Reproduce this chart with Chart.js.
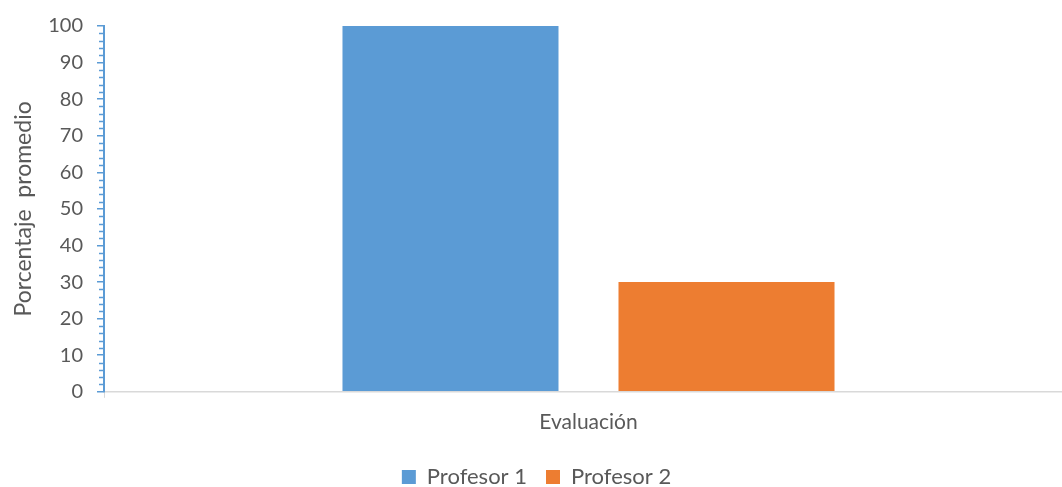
<!DOCTYPE html>
<html>
<head>
<meta charset="utf-8">
<script src="https://cdn.jsdelivr.net/npm/chart.js@4/dist/chart.umd.min.js"></script>
<style>
  html, body { margin: 0; padding: 0; background: #fff; overflow: hidden; }
  #caja { width: 1073px; height: 498px; position: relative; }
</style>
</head>
<body>
<div id="caja"><canvas id="grafico"></canvas></div>
<script>
const categorias = ["Evaluación"]
const profesor1 = [100]
const profesor2 = [30]
const marcasY = [0, 10, 20, 30, 40, 50, 60, 70, 80, 90, 100]

const azul = '#5B9BD5'
const naranja = '#ED7D31'
const gris = '#595959'
const fuente = 'Lato, "Liberation Sans", sans-serif'

// ticks menores del eje Y (cada 2 unidades), mas cortos que los mayores
const ticksMenores = {
  id: 'ticksMenores',
  afterDraw(chart) {
    const y = chart.scales.y
    const c = chart.ctx
    c.save()
    c.strokeStyle = azul
    c.lineWidth = 1.5
    y.ticks.forEach(t => {
      if (marcasY.includes(t.value)) return
      const py = Math.round(y.getPixelForValue(t.value)) + 0.5
      c.beginPath()
      c.moveTo(y.right - 5, py)
      c.lineTo(y.right, py)
      c.stroke()
    })
    c.restore()
  }
}

const ctx = document.getElementById('grafico')

let grafico = new Chart(ctx, {
  type: 'bar',
  data: {
    labels: categorias,
    datasets: [
      { label: 'Profesor 1', data: profesor1, backgroundColor: azul },
      { label: 'Profesor 2', data: profesor2, backgroundColor: naranja }
    ]
  },
  options: {
    responsive: true,
    maintainAspectRatio: false,
    animation: false,
    datasets: {
      bar: { barPercentage: 0.7826, categoryPercentage: 0.5697 }
    },
    layout: { padding: { top: 14, right: 0, bottom: 0, left: 0 } },
    scales: {
      x: {
        border: { color: '#D9D9D9', width: 1.5 },
        grid: { drawOnChartArea: false, tickLength: 6, color: '#D9D9D9' },
        ticks: { color: gris, padding: 12, font: { family: fuente, size: 21 } }
      },
      y: {
        min: 0,
        max: 100,
        afterFit: s => { s.width = 104 },
        border: { color: azul, width: 2 },
        grid: {
          drawOnChartArea: false,
          tickLength: 7,
          lineWidth: 1.5,
          tickColor: c => marcasY.includes(c.tick && c.tick.value) ? azul : 'rgba(0,0,0,0)'
        },
        ticks: {
          stepSize: 2,
          autoSkip: false,
          color: gris,
          padding: 14,
          font: { family: fuente, size: 20 },
          callback: v => marcasY.includes(v) ? v : ''
        },
        title: {
          display: true,
          text: 'Porcentaje  promedio',
          color: gris,
          padding: { top: 10, bottom: 0 },
          font: { family: fuente, size: 23 }
        }
      }
    },
    plugins: {
      legend: {
        position: 'bottom',
        labels: {
          color: gris,
          boxWidth: 14,
          boxHeight: 14,
          padding: 19,
          font: { family: fuente, size: 22 }
        }
      },
      tooltip: { enabled: false }
    }
  },
  plugins: [ticksMenores]
})
</script>
</body>
</html>
